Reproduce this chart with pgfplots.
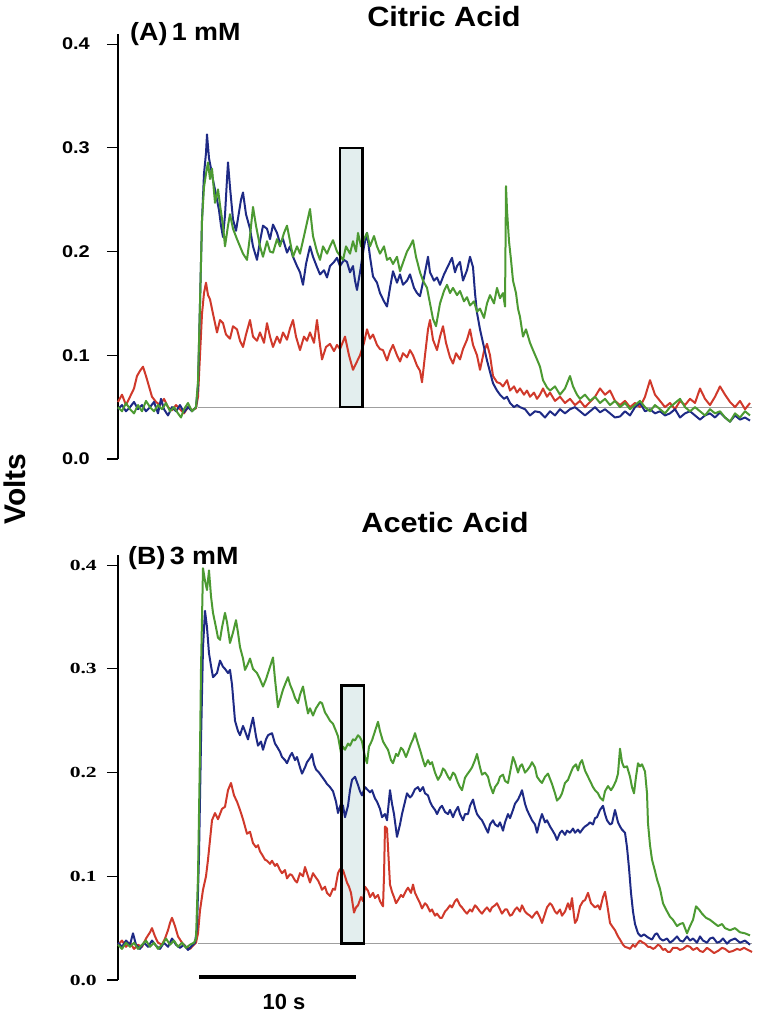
\documentclass[border=0pt]{standalone}
\usepackage{fontspec}
\setmainfont{Liberation Sans}
\newfontfamily\serifbold{Liberation Serif}
\usepackage{graphicx}
\usepackage{pgfplots}
\pgfplotsset{compat=1.18}
\definecolor{tblue}{HTML}{1E2A85}
\definecolor{tgreen}{HTML}{4C9A32}
\definecolor{tred}{HTML}{D0392B}
\definecolor{boxfill}{HTML}{E3EEEE}
\newcommand\toplab[1]{\scalebox{1.18}[1]{\fontsize{17}{17}\selectfont\bfseries #1}}
\newcommand\botlab[1]{\scalebox{1.4}[1]{\fontsize{15.5}{15.5}\selectfont\serifbold\bfseries #1}}
\pgfplotsset{
  trace/.style={
    scale only axis, width=637bp, height=425.2bp,
    xmin=118, xmax=755, ymin=0, ymax=0.41,
    axis x line=none, axis y line*=left,
    axis line style={black, line width=1.2bp},
    ytick={0,0.1,0.2,0.3,0.4},
    tick align=outside, major tick length=11bp,
    tick style={black, line width=1.1bp},
    yticklabel style={anchor=east, inner sep=0pt, xshift=-4bp},
    clip=false,
  },
  tr/.style={line width=2bp, line join=round},
}
\begin{document}
\begin{tikzpicture}
\useasboundingbox (0,0) rectangle (758bp,1014bp);
% ---------------- Panel A ----------------
\begin{axis}[trace, at={(118bp,555bp)}, anchor=south west,
  yticklabels={\toplab{0.0},\toplab{0.1},\toplab{0.2},\toplab{0.3},\toplab{0.4}},
  yticklabel style={xshift=-13bp}]
\fill[boxfill] (axis cs:340,0.05) rectangle (axis cs:362.5,0.3);
\addplot[gray!75, line width=0.9bp] coordinates {(198,0.05) (752,0.05)};
\addplot[tr, tred] coordinates {
(118,0.055)(122,0.062)(126,0.052)(130,0.060)(134,0.068)(137,0.080)(140,0.085)(143,0.089)(146,0.080)(149,0.070)(152,0.060)(156,0.055)(160,0.052)(164,0.058)(168,0.050)(172,0.047)(176,0.052)(180,0.048)(184,0.044)(188,0.050)(192,0.047)(196,0.049)(198,0.060)(200,0.100)(202,0.140)(204,0.160)(206,0.170)(208,0.158)(210,0.154)(213,0.140)(217,0.122)(220,0.134)(223,0.131)(226,0.120)(230,0.116)(233,0.128)(237,0.125)(240,0.114)(243,0.108)(246,0.120)(250,0.134)(253,0.118)(257,0.114)(260,0.122)(264,0.112)(267,0.131)(270,0.118)(273,0.108)(277,0.118)(280,0.112)(283,0.122)(287,0.115)(290,0.126)(293,0.134)(296,0.118)(300,0.105)(304,0.118)(307,0.114)(310,0.122)(314,0.112)(317,0.134)(320,0.110)(322,0.096)(326,0.108)(330,0.111)(334,0.104)(337,0.110)(340,0.106)(345,0.118)(349,0.100)(353,0.086)(356,0.092)(360,0.100)(364,0.112)(367,0.125)(370,0.116)(373,0.120)(377,0.110)(380,0.106)(383,0.105)(387,0.095)(390,0.104)(393,0.110)(397,0.100)(400,0.094)(403,0.102)(407,0.098)(410,0.105)(413,0.100)(417,0.090)(420,0.085)(422,0.074)(425,0.100)(428,0.125)(430,0.134)(433,0.115)(437,0.105)(440,0.118)(443,0.128)(446,0.112)(450,0.098)(453,0.092)(456,0.102)(460,0.096)(463,0.106)(467,0.115)(470,0.125)(473,0.110)(477,0.100)(480,0.086)(484,0.104)(487,0.111)(490,0.100)(493,0.080)(497,0.074)(500,0.073)(503,0.070)(507,0.076)(510,0.066)(514,0.070)(517,0.064)(520,0.068)(524,0.062)(527,0.066)(530,0.060)(534,0.064)(537,0.058)(540,0.062)(543,0.068)(547,0.060)(550,0.064)(555,0.056)(560,0.060)(565,0.054)(570,0.058)(575,0.052)(580,0.056)(585,0.050)(590,0.055)(595,0.060)(600,0.068)(605,0.062)(610,0.066)(615,0.056)(620,0.052)(625,0.056)(630,0.050)(635,0.054)(640,0.050)(645,0.060)(650,0.076)(655,0.062)(660,0.056)(665,0.050)(670,0.054)(675,0.048)(680,0.056)(685,0.052)(690,0.058)(695,0.054)(700,0.068)(705,0.058)(710,0.052)(715,0.060)(720,0.070)(725,0.062)(730,0.055)(735,0.050)(740,0.056)(745,0.048)(750,0.054)};
\addplot[tr, tblue] coordinates {
(118,0.048)(122,0.052)(126,0.046)(130,0.050)(134,0.055)(138,0.048)(142,0.052)(146,0.046)(150,0.050)(154,0.055)(158,0.044)(161,0.058)(164,0.048)(168,0.042)(172,0.050)(176,0.046)(180,0.052)(184,0.045)(188,0.050)(192,0.046)(196,0.050)(198,0.070)(200,0.150)(202,0.230)(204,0.275)(206,0.295)(207,0.313)(209,0.290)(211,0.280)(213,0.269)(216,0.255)(219,0.240)(221,0.225)(223,0.214)(225,0.235)(227,0.270)(228,0.286)(230,0.262)(233,0.231)(236,0.220)(239,0.238)(241,0.250)(243,0.257)(246,0.236)(250,0.222)(253,0.205)(257,0.192)(260,0.210)(263,0.225)(267,0.222)(270,0.212)(273,0.226)(277,0.218)(280,0.208)(283,0.212)(287,0.199)(290,0.205)(293,0.195)(297,0.186)(300,0.180)(303,0.168)(306,0.188)(310,0.205)(313,0.195)(317,0.185)(320,0.178)(324,0.182)(327,0.175)(330,0.186)(334,0.190)(337,0.194)(340,0.186)(344,0.192)(347,0.190)(350,0.180)(353,0.186)(355,0.172)(357,0.163)(360,0.180)(364,0.205)(367,0.218)(370,0.195)(373,0.176)(377,0.170)(380,0.160)(384,0.152)(387,0.147)(390,0.165)(393,0.181)(397,0.170)(400,0.178)(403,0.168)(407,0.172)(410,0.178)(414,0.165)(417,0.160)(420,0.157)(424,0.175)(428,0.195)(430,0.180)(434,0.172)(437,0.175)(440,0.168)(444,0.178)(448,0.186)(452,0.194)(455,0.180)(457,0.186)(460,0.190)(463,0.172)(467,0.182)(470,0.195)(473,0.185)(475,0.160)(477,0.141)(480,0.125)(483,0.112)(487,0.095)(490,0.084)(493,0.073)(497,0.066)(500,0.062)(504,0.058)(507,0.060)(510,0.054)(514,0.050)(517,0.052)(520,0.050)(525,0.048)(530,0.042)(535,0.046)(540,0.045)(545,0.040)(550,0.046)(555,0.042)(560,0.048)(565,0.044)(570,0.048)(575,0.050)(580,0.046)(585,0.042)(590,0.046)(595,0.050)(600,0.045)(605,0.048)(610,0.044)(615,0.040)(620,0.041)(625,0.046)(630,0.042)(635,0.050)(640,0.054)(645,0.046)(650,0.048)(655,0.044)(660,0.046)(665,0.042)(670,0.044)(675,0.048)(680,0.040)(685,0.044)(690,0.046)(695,0.042)(700,0.038)(705,0.042)(710,0.044)(715,0.040)(720,0.045)(725,0.040)(730,0.036)(735,0.042)(740,0.038)(745,0.040)(750,0.037)};
\addplot[tr, tgreen] coordinates {
(118,0.050)(122,0.046)(126,0.054)(130,0.048)(134,0.044)(138,0.052)(142,0.046)(146,0.056)(150,0.050)(154,0.046)(158,0.052)(162,0.048)(166,0.054)(170,0.046)(174,0.050)(178,0.044)(181,0.040)(184,0.048)(188,0.054)(192,0.046)(196,0.050)(198,0.075)(200,0.150)(202,0.230)(204,0.262)(206,0.275)(208,0.286)(210,0.270)(212,0.280)(215,0.247)(218,0.260)(220,0.245)(223,0.225)(225,0.205)(228,0.225)(230,0.236)(233,0.222)(237,0.212)(240,0.205)(243,0.198)(247,0.192)(250,0.215)(253,0.243)(256,0.225)(260,0.205)(263,0.195)(267,0.210)(270,0.200)(273,0.199)(277,0.212)(280,0.205)(284,0.218)(287,0.225)(290,0.210)(293,0.195)(297,0.205)(300,0.198)(304,0.215)(307,0.228)(310,0.241)(313,0.215)(317,0.200)(320,0.192)(323,0.205)(327,0.198)(330,0.205)(333,0.211)(337,0.200)(340,0.196)(343,0.192)(346,0.205)(350,0.198)(353,0.210)(356,0.200)(358,0.218)(361,0.205)(364,0.212)(367,0.218)(370,0.205)(374,0.215)(377,0.205)(380,0.198)(384,0.205)(387,0.192)(390,0.194)(393,0.188)(397,0.195)(400,0.181)(404,0.192)(407,0.200)(410,0.205)(413,0.211)(416,0.195)(420,0.180)(423,0.172)(427,0.165)(430,0.150)(433,0.135)(436,0.128)(440,0.150)(444,0.162)(447,0.168)(450,0.160)(453,0.165)(457,0.158)(460,0.162)(464,0.152)(467,0.156)(470,0.148)(474,0.152)(477,0.142)(480,0.145)(484,0.136)(487,0.150)(490,0.158)(494,0.150)(497,0.165)(500,0.155)(503,0.160)(505,0.147)(506,0.263)(507,0.240)(509,0.210)(511,0.192)(513,0.172)(516,0.160)(518,0.145)(520,0.137)(523,0.118)(526,0.125)(530,0.112)(533,0.105)(537,0.096)(540,0.089)(543,0.076)(547,0.069)(550,0.066)(555,0.070)(560,0.062)(565,0.068)(570,0.080)(573,0.070)(577,0.062)(580,0.058)(585,0.062)(590,0.056)(595,0.060)(600,0.054)(605,0.058)(610,0.052)(615,0.056)(620,0.050)(625,0.054)(630,0.048)(635,0.052)(640,0.056)(645,0.050)(650,0.046)(655,0.052)(660,0.048)(665,0.044)(670,0.050)(675,0.054)(680,0.058)(685,0.050)(690,0.046)(695,0.050)(700,0.046)(705,0.042)(710,0.048)(715,0.044)(720,0.046)(725,0.040)(730,0.036)(735,0.044)(740,0.040)(745,0.046)(750,0.042)};
\draw[black, line width=2.6bp] (axis cs:340,0.05) rectangle (axis cs:362.5,0.3);
\end{axis}
% ---------------- Panel B ----------------
\begin{axis}[trace, at={(118bp,34bp)}, anchor=south west,
  yticklabels={\botlab{0.0},\botlab{0.1},\botlab{0.2},\botlab{0.3},\botlab{0.4}},
  yticklabel style={xshift=-6bp}]
\fill[boxfill] (axis cs:341.5,0.035) rectangle (axis cs:364,0.284);
\addplot[gray!75, line width=0.9bp] coordinates {(198,0.035) (752,0.035)};
\addplot[tr, tred] coordinates {
(118,0.034)(122,0.038)(126,0.032)(130,0.036)(134,0.030)(138,0.034)(142,0.032)(146,0.040)(150,0.046)(152,0.050)(155,0.042)(158,0.036)(162,0.034)(165,0.040)(168,0.048)(170,0.055)(172,0.060)(175,0.052)(178,0.042)(182,0.036)(186,0.032)(190,0.030)(194,0.034)(196,0.036)(198,0.045)(200,0.067)(203,0.087)(206,0.100)(208,0.116)(210,0.135)(212,0.154)(215,0.161)(218,0.155)(220,0.160)(222,0.165)(225,0.167)(228,0.183)(231,0.190)(234,0.178)(237,0.172)(240,0.164)(243,0.155)(245,0.148)(247,0.141)(250,0.143)(253,0.132)(256,0.128)(258,0.130)(260,0.124)(262,0.121)(265,0.116)(267,0.115)(270,0.112)(272,0.115)(275,0.110)(277,0.112)(280,0.106)(282,0.103)(285,0.106)(287,0.098)(290,0.102)(292,0.101)(295,0.096)(297,0.094)(300,0.103)(303,0.100)(305,0.109)(308,0.100)(310,0.094)(313,0.103)(315,0.100)(318,0.096)(320,0.092)(322,0.087)(325,0.090)(327,0.084)(330,0.081)(333,0.088)(335,0.087)(338,0.103)(340,0.107)(343,0.106)(345,0.100)(347,0.094)(349,0.090)(351,0.084)(354,0.065)(356,0.070)(358,0.072)(361,0.080)(363,0.076)(365,0.090)(368,0.086)(370,0.080)(373,0.084)(375,0.079)(378,0.082)(380,0.076)(383,0.071)(384,0.100)(385,0.148)(387,0.146)(388,0.128)(390,0.092)(392,0.085)(394,0.080)(396,0.074)(398,0.077)(401,0.082)(403,0.080)(406,0.086)(408,0.089)(411,0.084)(413,0.092)(415,0.084)(417,0.080)(420,0.074)(422,0.069)(425,0.074)(427,0.072)(430,0.066)(432,0.068)(435,0.062)(437,0.064)(440,0.060)(442,0.060)(445,0.066)(447,0.068)(450,0.072)(452,0.070)(455,0.076)(457,0.078)(460,0.072)(462,0.070)(465,0.066)(467,0.064)(470,0.068)(472,0.066)(475,0.072)(477,0.070)(480,0.066)(482,0.064)(485,0.068)(487,0.070)(490,0.066)(492,0.070)(495,0.072)(497,0.074)(500,0.068)(502,0.064)(505,0.068)(507,0.068)(510,0.062)(512,0.063)(515,0.068)(517,0.070)(520,0.066)(522,0.072)(525,0.066)(527,0.064)(530,0.062)(532,0.060)(535,0.064)(537,0.066)(540,0.060)(542,0.055)(545,0.064)(547,0.070)(550,0.074)(552,0.072)(555,0.066)(557,0.064)(560,0.068)(562,0.062)(565,0.066)(568,0.074)(570,0.068)(572,0.079)(574,0.062)(575,0.055)(577,0.058)(580,0.071)(583,0.076)(585,0.077)(588,0.084)(591,0.074)(593,0.072)(595,0.070)(598,0.072)(600,0.068)(603,0.080)(605,0.085)(607,0.074)(610,0.055)(612,0.052)(615,0.048)(618,0.042)(620,0.039)(623,0.034)(625,0.032)(628,0.031)(630,0.030)(633,0.034)(635,0.032)(638,0.036)(640,0.038)(643,0.036)(645,0.035)(648,0.032)(650,0.032)(653,0.030)(655,0.031)(658,0.034)(660,0.033)(663,0.029)(665,0.030)(668,0.027)(670,0.027)(673,0.031)(677,0.031)(680,0.029)(683,0.030)(687,0.033)(690,0.032)(693,0.029)(697,0.031)(700,0.028)(703,0.027)(707,0.031)(710,0.029)(714,0.026)(718,0.028)(722,0.031)(725,0.030)(729,0.027)(733,0.028)(737,0.030)(740,0.029)(744,0.031)(748,0.029)(752,0.027)};
\addplot[tr, tblue] coordinates {
(118,0.036)(122,0.032)(126,0.038)(130,0.034)(133,0.045)(136,0.034)(140,0.030)(144,0.036)(148,0.032)(152,0.038)(156,0.033)(160,0.030)(164,0.036)(168,0.032)(172,0.040)(176,0.034)(180,0.031)(184,0.034)(188,0.029)(192,0.033)(195,0.036)(197,0.050)(199,0.120)(201,0.230)(203,0.321)(205,0.356)(207,0.340)(209,0.315)(211,0.303)(213,0.292)(217,0.296)(220,0.308)(223,0.302)(225,0.300)(228,0.296)(230,0.299)(232,0.285)(235,0.250)(238,0.240)(240,0.236)(243,0.245)(245,0.240)(248,0.232)(251,0.245)(253,0.253)(256,0.235)(258,0.226)(261,0.230)(263,0.222)(266,0.232)(268,0.236)(272,0.238)(275,0.228)(277,0.225)(280,0.220)(282,0.215)(285,0.212)(287,0.209)(290,0.216)(292,0.219)(295,0.212)(297,0.215)(300,0.205)(302,0.199)(305,0.205)(307,0.210)(310,0.214)(312,0.218)(314,0.208)(316,0.203)(319,0.200)(322,0.196)(325,0.192)(327,0.189)(330,0.186)(333,0.182)(336,0.172)(338,0.161)(341,0.170)(343,0.168)(345,0.157)(348,0.168)(350,0.183)(352,0.193)(355,0.196)(358,0.188)(360,0.182)(362,0.178)(365,0.186)(367,0.184)(370,0.181)(372,0.183)(375,0.175)(377,0.172)(380,0.165)(382,0.157)(385,0.160)(387,0.154)(390,0.183)(392,0.170)(394,0.160)(397,0.138)(400,0.150)(402,0.160)(405,0.172)(407,0.180)(410,0.176)(412,0.178)(415,0.184)(418,0.186)(420,0.182)(423,0.186)(425,0.180)(428,0.178)(430,0.172)(432,0.168)(435,0.164)(437,0.160)(440,0.166)(442,0.168)(445,0.162)(448,0.160)(450,0.164)(453,0.157)(455,0.162)(458,0.167)(460,0.160)(463,0.154)(465,0.160)(468,0.160)(470,0.168)(473,0.174)(475,0.166)(477,0.160)(480,0.156)(482,0.154)(485,0.148)(488,0.142)(490,0.150)(493,0.154)(495,0.150)(498,0.148)(500,0.152)(503,0.144)(505,0.152)(508,0.160)(510,0.156)(513,0.164)(515,0.170)(518,0.174)(520,0.178)(522,0.183)(525,0.170)(527,0.164)(530,0.158)(532,0.154)(535,0.150)(537,0.142)(540,0.154)(542,0.160)(545,0.152)(547,0.154)(550,0.148)(552,0.145)(555,0.140)(557,0.135)(560,0.142)(562,0.144)(565,0.140)(567,0.144)(570,0.142)(573,0.146)(575,0.142)(578,0.145)(580,0.142)(583,0.146)(585,0.148)(588,0.150)(590,0.152)(593,0.150)(595,0.156)(597,0.157)(600,0.164)(603,0.168)(605,0.160)(607,0.154)(610,0.150)(612,0.151)(615,0.164)(618,0.152)(620,0.148)(622,0.145)(625,0.142)(627,0.128)(629,0.108)(631,0.084)(633,0.066)(635,0.054)(638,0.045)(641,0.042)(644,0.044)(648,0.041)(652,0.039)(655,0.044)(657,0.045)(660,0.040)(663,0.038)(667,0.040)(670,0.036)(673,0.038)(677,0.042)(680,0.038)(683,0.037)(687,0.042)(690,0.038)(693,0.040)(697,0.036)(700,0.042)(703,0.038)(707,0.036)(710,0.040)(713,0.041)(717,0.036)(720,0.037)(723,0.040)(727,0.035)(730,0.038)(735,0.040)(740,0.036)(745,0.038)(750,0.034)};
\addplot[tr, tgreen] coordinates {
(118,0.034)(122,0.030)(126,0.036)(130,0.032)(134,0.036)(138,0.030)(142,0.034)(146,0.038)(150,0.032)(154,0.036)(158,0.030)(162,0.034)(166,0.040)(170,0.034)(174,0.038)(178,0.032)(182,0.036)(186,0.031)(190,0.034)(194,0.036)(196,0.040)(198,0.100)(200,0.220)(201,0.300)(203,0.397)(205,0.385)(207,0.376)(209,0.395)(211,0.370)(213,0.354)(216,0.340)(218,0.330)(220,0.328)(222,0.340)(225,0.354)(227,0.345)(230,0.325)(233,0.335)(236,0.347)(238,0.335)(240,0.321)(243,0.310)(245,0.299)(248,0.305)(250,0.310)(253,0.300)(257,0.296)(260,0.290)(263,0.283)(266,0.290)(270,0.302)(273,0.311)(275,0.290)(278,0.263)(280,0.270)(283,0.280)(285,0.285)(288,0.292)(290,0.285)(293,0.278)(295,0.272)(298,0.267)(300,0.275)(303,0.283)(305,0.272)(308,0.257)(310,0.262)(313,0.255)(316,0.262)(318,0.265)(320,0.268)(322,0.267)(325,0.258)(327,0.255)(330,0.250)(333,0.247)(336,0.240)(338,0.235)(341,0.219)(343,0.225)(345,0.222)(348,0.228)(350,0.226)(353,0.232)(355,0.231)(358,0.236)(360,0.234)(362,0.230)(365,0.215)(367,0.209)(369,0.225)(372,0.231)(375,0.240)(378,0.249)(380,0.240)(383,0.230)(386,0.225)(388,0.222)(391,0.212)(393,0.209)(396,0.218)(398,0.216)(401,0.224)(403,0.222)(406,0.215)(408,0.220)(411,0.228)(413,0.232)(415,0.238)(418,0.228)(420,0.222)(423,0.212)(425,0.206)(428,0.212)(430,0.208)(432,0.210)(435,0.200)(438,0.193)(441,0.198)(443,0.204)(445,0.202)(448,0.196)(450,0.193)(453,0.200)(455,0.198)(458,0.190)(460,0.186)(462,0.183)(465,0.195)(467,0.198)(470,0.202)(472,0.205)(475,0.212)(477,0.218)(480,0.205)(482,0.198)(485,0.200)(488,0.196)(490,0.188)(493,0.180)(495,0.186)(498,0.190)(500,0.196)(503,0.198)(505,0.192)(508,0.190)(510,0.200)(513,0.215)(515,0.210)(518,0.200)(520,0.206)(522,0.208)(525,0.200)(527,0.202)(530,0.206)(532,0.210)(535,0.205)(537,0.196)(540,0.192)(542,0.190)(545,0.196)(548,0.199)(550,0.194)(552,0.189)(555,0.180)(557,0.173)(560,0.176)(562,0.180)(565,0.190)(568,0.193)(570,0.198)(573,0.205)(576,0.208)(578,0.202)(580,0.209)(582,0.212)(585,0.202)(588,0.196)(590,0.192)(593,0.186)(595,0.183)(598,0.180)(600,0.176)(603,0.173)(605,0.182)(608,0.187)(611,0.183)(613,0.186)(616,0.192)(618,0.199)(620,0.223)(622,0.210)(624,0.205)(627,0.206)(630,0.196)(632,0.186)(634,0.180)(636,0.196)(638,0.209)(640,0.206)(642,0.208)(645,0.201)(647,0.180)(648,0.151)(650,0.130)(652,0.116)(655,0.105)(657,0.097)(660,0.088)(663,0.074)(666,0.068)(670,0.061)(673,0.058)(677,0.052)(680,0.054)(683,0.055)(685,0.050)(687,0.045)(690,0.052)(693,0.058)(696,0.071)(699,0.068)(702,0.064)(706,0.060)(710,0.058)(714,0.055)(718,0.052)(722,0.054)(725,0.050)(730,0.048)(735,0.050)(740,0.046)(745,0.045)(750,0.043)};
\draw[black, line width=2.6bp] (axis cs:341.5,0.035) rectangle (axis cs:364,0.284);
\end{axis}
% ---------------- texts and scale bar ----------------
\node[anchor=base, inner sep=0pt] at (444bp,987bp) {\scalebox{1.1}[1]{\fontsize{28}{30}\selectfont\bfseries Citric Acid}};
\node[anchor=base, inner sep=0pt] at (445bp,481bp) {\scalebox{1.1}[1]{\fontsize{28}{30}\selectfont\bfseries Acetic Acid}};
\node[anchor=base west, inner sep=0pt] at (130bp,973bp) {\scalebox{1.08}[1]{\fontsize{25}{27}\selectfont\bfseries (A)\kern4pt 1 mM}};
\node[anchor=base west, inner sep=0pt] at (128bp,449bp) {\scalebox{1.08}[1]{\fontsize{25}{27}\selectfont\bfseries (B)\kern4pt 3 mM}};
\node[rotate=90, anchor=base, inner sep=0pt] at (25bp,525bp) {\fontsize{30}{32}\selectfont\bfseries Volts};
\draw[black, line width=4bp] (199bp,37bp) -- (356bp,37bp);
\node[anchor=base, inner sep=0pt] at (284bp,5bp) {\fontsize{22}{24}\selectfont\bfseries 10 s};
\end{tikzpicture}
\end{document}
